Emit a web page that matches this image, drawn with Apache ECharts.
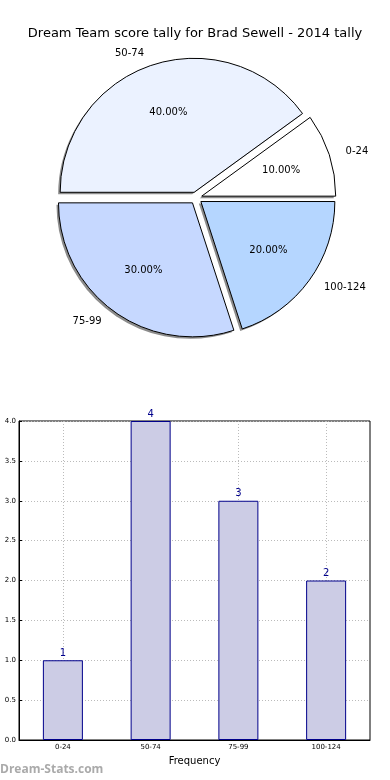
<!DOCTYPE html>
<html><head><meta charset="utf-8">
<script src="https://cdn.jsdelivr.net/npm/echarts@6/dist/echarts.min.js"></script>
<style>html,body{margin:0;padding:0;background:#fff}#c{width:390px;height:780px}</style>
</head><body><div id="c"></div>
<script>
const titleText = 'Dream Team score tally for Brad Sewell - 2014 tally';
const categories = ['0-24', '50-74', '75-99', '100-124'];
const counts = [1, 4, 3, 2];
const pieColors = ['#FFFFFF', '#EBF2FF', '#C6D8FF', '#B5D6FF'];
const yTicks = [0, 0.5, 1, 1.5, 2, 2.5, 3, 3.5, 4];

const total = counts.reduce((a, b) => a + b, 0);
const font = 'DejaVu Sans';
const pieData = categories.map((c, i) => ({
  name: c, value: counts[i], selected: true,
  itemStyle: { color: pieColors[i] }
}));
const plainData = () => categories.map((c, i) => ({ name: c, value: counts[i], selected: true }));

const pieCommon = {
  type: 'pie', startAngle: 0, clockwise: false,
  selectedMode: 'multiple', selectedOffset: 6,
  avoidLabelOverlap: false, emphasis: { disabled: true }
};

const chart = echarts.init(document.getElementById('c'), null, { renderer: 'canvas' });
chart.setOption({
  animation: false,
  title: {
    text: titleText, left: 'center', top: 22,
    textStyle: { fontFamily: font, fontSize: 13, fontWeight: 'normal', color: '#000' }
  },
  graphic: [{
    type: 'text', left: 0, top: 764,
    style: { text: 'Dream-Stats.com', fill: '#aaaaaa', font: 'bold 12px "Open Sans", sans-serif' }
  }],
  grid: {
    left: 19, right: 20, top: 421, bottom: 40,
    show: true, borderColor: '#000', borderWidth: 1
  },
  xAxis: {
    type: 'category', data: categories,
    name: 'Frequency', nameLocation: 'middle', nameGap: 16,
    nameTextStyle: { fontFamily: font, fontSize: 10, color: '#000' },
    axisLine: { show: true, lineStyle: { color: '#000' } },
    axisTick: { show: true, inside: true, alignWithLabel: true, length: 3, lineStyle: { color: '#000' } },
    axisLabel: { fontFamily: font, fontSize: 7, color: '#000', margin: 4 },
    splitLine: { show: true, alignWithLabel: true, lineStyle: { color: '#bbbbbb', type: [1, 2] } }
  },
  yAxis: {
    type: 'value', min: 0, max: 4, interval: 0.5,
    axisLine: { show: true, lineStyle: { color: '#000' } },
    axisTick: { show: true, inside: true, length: 3, lineStyle: { color: '#000' } },
    axisLabel: { fontFamily: font, fontSize: 7, color: '#000', margin: 3, formatter: v => v.toFixed(1) },
    splitLine: { show: true, lineStyle: { color: '#bbbbbb', type: [1, 2] } }
  },
  series: [
    Object.assign({}, pieCommon, {
      center: [194, 200], radius: [0, 134], silent: true, z: 1,
      data: plainData(),
      itemStyle: { color: '#8c8c8c', borderWidth: 0 },
      label: { show: false }, labelLine: { show: false }
    }),
    Object.assign({}, pieCommon, {
      center: [196, 198], radius: [0, 134], z: 2,
      data: pieData,
      itemStyle: { borderColor: '#000', borderWidth: 1 },
      label: {
        show: true, position: 'outside', formatter: '{b}',
        fontFamily: font, fontSize: 10, color: '#000'
      },
      labelLine: { show: false, length: 12, length2: 0 }
    }),
    Object.assign({}, pieCommon, {
      center: [196, 198], radius: [27, 134], silent: true, z: 3,
      data: plainData(),
      itemStyle: { color: 'rgba(0,0,0,0)', borderWidth: 0 },
      label: {
        show: true, position: 'inside',
        formatter: p => (p.value / total * 100).toFixed(2) + '%',
        fontFamily: font, fontSize: 10, color: '#000'
      },
      labelLine: { show: false }
    }),
    {
      type: 'bar', data: counts, barWidth: 40,
      itemStyle: { color: '#CCCCE5', borderColor: '#00008B', borderWidth: 1 },
      label: { show: true, position: 'top', distance: 2, fontFamily: font, fontSize: 10, color: '#00008B' },
      emphasis: { disabled: true }
    }
  ]
});
</script></body></html>
